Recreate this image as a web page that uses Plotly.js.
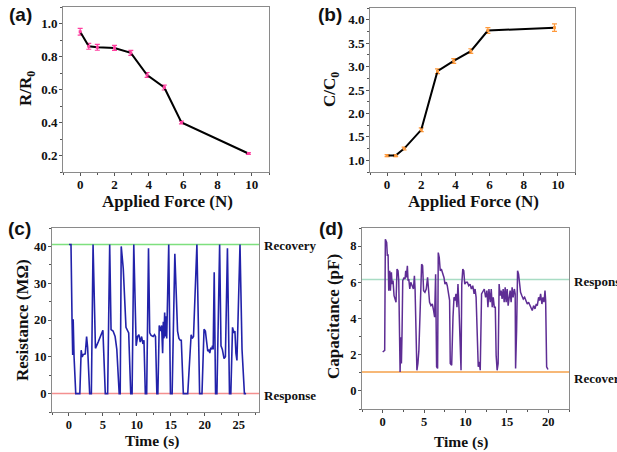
<!DOCTYPE html>
<html>
<head>
<meta charset="utf-8">
<script src="https://cdn.plot.ly/plotly-3.0.1.min.js"></script>
<style>html,body{margin:0;padding:0;background:#fff;}#chart{width:617px;height:452px;}</style>
</head>
<body>
<div id="chart"></div>
<script>
// ---------- Data ----------
// (a) R/R0 vs applied force
const forceA = [0, 0.5, 1, 2, 2.95, 3.9, 4.9, 5.9, 9.8];
const ratioR = [0.95, 0.862, 0.856, 0.852, 0.822, 0.688, 0.612, 0.400, 0.212];
const errR   = [0.02, 0.018, 0.018, 0.015, 0.015, 0.015, 0.015, 0.008, 0.005];

// (b) C/C0 vs applied force
const forceB = [0, 0.5, 1, 2, 2.95, 3.9, 4.9, 5.9, 9.8];
const ratioC = [1.10, 1.10, 1.25, 1.65, 2.90, 3.12, 3.33, 3.77, 3.83];
const errC   = [0.02, 0.02, 0.03, 0.04, 0.05, 0.05, 0.05, 0.06, 0.08];

// (c) resistance vs time
const timeC = [0,0.3,0.45,0.55,0.62,0.75,1.0,1.6,1.8,1.95,2.1,2.4,2.6,2.75,3.05,3.3,3.55,3.9,4.3,4.8,5.0,5.35,5.7,6.0,6.2,6.5,6.8,7.05,7.4,7.55,7.7,8.0,8.25,8.4,8.8,9.1,9.3,9.55,9.9,10.1,10.3,10.5,10.7,10.9,11.05,11.25,11.45,11.72,11.9,12.1,12.4,12.6,12.75,12.95,13.1,13.3,13.5,13.65,13.8,13.9,14.0,14.1,14.2,14.3,14.4,14.7,14.95,15.2,15.6,15.8,16.0,16.2,16.4,16.55,16.85,17.5,17.8,18.0,18.15,18.35,18.85,19.25,19.6,19.9,20.1,20.3,20.45,20.6,20.75,20.9,21.05,21.15,21.25,21.4,21.6,21.8,22.2,22.4,22.6,22.85,23.05,23.35,23.65,23.85,24.1,24.3,24.45,24.6,24.75,25.2,25.5,25.85,26.1];
const resistance = [40.5,40.5,20.3,10.5,20.2,10,0,0,11.8,10,10.6,10.8,15.5,12.5,0,0,40.5,12.3,14,16.5,17.2,0,0,40.5,17.4,17,15.5,12,0,0,40,34,26,18,16.5,0,0,40.5,13,15.5,16,14,15.5,13.5,14.5,0,0,39.5,16.5,15.8,15.5,16,15.5,0,0,18.5,17,18.5,11,19.5,15,22,15.5,21,15,40.5,0,0,38,28,17,15,14.5,14.5,0,0,11,16,15,15.5,40.5,0,0,17.5,17,12.5,11.5,12,11,12.5,12,13,12,33,0,0,40.5,13,12,9.5,10,39.5,0,0,18,16.5,17,11,9,40.5,12,0,0];
const recoveryC = 40.5;
const responseC = 0;

// (d) capacitance vs time
const timeD = [0,0.24,0.32,0.48,0.56,0.65,0.73,0.85,0.93,1.05,1.13,1.25,1.37,1.53,1.61,1.73,1.85,1.94,2.02,2.1,2.18,2.26,2.34,2.42,2.58,2.7,2.78,2.86,2.98,3.06,3.15,3.27,3.39,3.55,3.71,3.83,3.91,4.13,4.25,4.37,4.54,4.7,4.82,4.94,5.1,5.26,5.42,5.54,5.66,5.83,5.99,6.15,6.27,6.39,6.51,6.63,6.71,6.83,6.95,7.08,7.28,7.4,7.52,7.68,7.8,7.92,8.08,8.16,8.33,8.49,8.61,8.73,8.85,8.97,9.09,9.21,9.33,9.46,9.55,9.67,9.79,9.91,10.07,10.23,10.39,10.55,10.71,10.88,11.04,11.16,11.28,11.54,11.66,11.78,11.94,12.1,12.27,12.43,12.59,12.71,12.83,12.99,13.11,13.23,13.35,13.48,13.6,13.7,13.82,13.94,14.06,14.18,14.3,14.42,14.55,14.67,14.79,14.91,15.03,15.15,15.27,15.39,15.51,15.63,15.75,15.9,16.0,16.05,16.17,16.29,16.41,16.53,16.65,16.81,16.98,17.14,17.3,17.46,17.62,17.78,17.94,18.06,18.23,18.39,18.55,18.67,18.83,18.95,19.07,19.23,19.35,19.48,19.6,19.68,19.8,19.96];
const capacitance = [2.15,2.24,8.38,8.2,7.46,7.55,5.54,6.64,5.54,6.55,5.9,6.09,5.26,5.08,4.9,6.73,6.64,6.09,3.52,1.05,2.97,1.51,3.34,6.09,6.27,6.18,6.64,6.27,6.91,6.09,6.18,5.63,6.0,5.81,5.63,6.36,5.63,1.14,1.51,2.24,4.9,7.0,6.91,5.54,5.45,5.63,6.27,5.54,4.9,4.71,4.8,4.44,4.07,6.45,1.33,1.24,7.64,7.37,6.64,6.73,6.45,6.27,5.9,6.0,5.81,5.54,5.0,1.51,1.42,4.07,5.17,5.0,5.36,4.62,5.9,4.62,2.42,1.14,5.9,6.73,6.64,5.9,6.0,6.0,5.81,5.9,5.63,5.81,5.36,5.63,5.17,1.33,1.6,1.14,5.36,5.54,5.63,5.17,5.54,4.62,5.63,4.9,5.63,4.62,5.17,4.62,4.62,1.97,1.14,1.5,5.9,5.26,5.54,5.08,5.63,4.9,5.72,4.9,5.63,4.71,5.17,5.54,4.9,5.72,5.17,5.63,5.36,1.24,3.34,6.64,6.45,5.9,5.45,5.26,5.08,5.17,4.99,4.8,4.9,4.71,4.62,4.44,4.71,4.53,4.8,4.71,5.17,4.99,5.36,4.8,5.17,4.9,5.54,4.99,1.33,1.18];
const responseD = 6.15;
const recoveryD = 1.05;

// ---------- Styling helpers ----------
const W = 617, H = 452;
const px = v => v / W;
const py = v => 1 - v / H;
const serif = 'Liberation Serif, Times New Roman, serif';
const tickFontAB = {family: serif, size: 13, color: '#111', weight: 700};
const tickFontCD = {family: serif, size: 12.5, color: '#111', weight: 700};
const titleFontAB = {family: serif, size: 17, color: '#111', weight: 700};
const titleFontT = {family: serif, size: 15.5, color: '#111', weight: 700};
const titleFontY = {family: serif, size: 17, color: '#111', weight: 700};
const labelFont = {family: serif, size: 13, color: '#111', weight: 700};
const panelFont = {family: 'Liberation Sans, Arial, sans-serif', size: 19, color: '#111', weight: 700};

function axis(domain, range, dtick, minor, anchor, font, fmt, standoff) {
  const a = {
    domain: domain, range: range, dtick: dtick, tick0: 0, anchor: anchor,
    ticks: 'outside', ticklen: 3, tickwidth: 1, tickcolor: '#555',
    ticklabelstandoff: standoff === undefined ? -1 : standoff,
    showline: true, linecolor: '#8a8a8a', linewidth: 1, mirror: true,
    showgrid: false, zeroline: false, tickfont: font, fixedrange: true,
    minor: {ticks: 'outside', ticklen: 2, dtick: minor, tickcolor: '#555', showgrid: false}
  };
  if (fmt) a.tickformat = fmt;
  return a;
}

const traces = [
  {x: forceA, y: ratioR, xaxis: 'x', yaxis: 'y', type: 'scatter', mode: 'lines+markers',
   line: {color: '#000', width: 2}, marker: {color: '#ff3fa0', size: 3, symbol: 'square'},
   error_y: {type: 'data', array: errR, visible: true, color: '#ff3fa0', thickness: 1.2, width: 2.5}},
  {x: forceB, y: ratioC, xaxis: 'x2', yaxis: 'y2', type: 'scatter', mode: 'lines+markers',
   line: {color: '#000', width: 2}, marker: {color: '#ff9a3c', size: 3, symbol: 'square'},
   error_y: {type: 'data', array: errC, visible: true, color: '#ff9a3c', thickness: 1.2, width: 2.5}},
  {x: timeC, y: resistance, xaxis: 'x3', yaxis: 'y3', type: 'scatter', mode: 'lines',
   line: {color: '#2222aa', width: 1.6}},
  {x: timeD, y: capacitance, xaxis: 'x4', yaxis: 'y4', type: 'scatter', mode: 'lines',
   line: {color: '#5e2d94', width: 1.5}}
];

function txt(text, x, y, font, opts) {
  return Object.assign({text: text, x: px(x), y: py(y), xref: 'paper', yref: 'paper',
    xanchor: 'center', yanchor: 'middle', showarrow: false, font: font}, opts || {});
}

const layout = {
  width: W, height: H, margin: {l: 0, r: 0, t: 0, b: 0},
  paper_bgcolor: '#fff', plot_bgcolor: '#fff', showlegend: false,
  xaxis:  axis([px(63), px(269)], [-1, 11], 2, 1, 'y', tickFontAB, null, -3),
  yaxis:  axis([py(172), py(7)], [0.1, 1.1], 0.2, 0.1, 'x', tickFontAB, '.1f'),
  xaxis2: axis([px(370), px(575)], [-1, 11], 2, 1, 'y2', tickFontAB, null, -3),
  yaxis2: axis([py(172), py(8)], [0.75, 4.25], 0.5, 0.25, 'x2', tickFontAB, '.1f'),
  xaxis3: axis([px(52), px(259)], [-2.5, 28], 5, 2.5, 'y3', tickFontCD, null, -2),
  yaxis3: axis([py(412), py(228)], [-5, 45], 10, 5, 'x3', tickFontCD),
  xaxis4: axis([px(362), px(569)], [-2.5, 22.5], 5, 2.5, 'y4', tickFontCD, null, -2),
  yaxis4: axis([py(409), py(228)], [-1, 9], 2, 1, 'x4', tickFontCD),
  shapes: [
    {type: 'line', xref: 'x3 domain', yref: 'y3', x0: 0, x1: 1, y0: recoveryC, y1: recoveryC, line: {color: '#7ee07e', width: 1.5}, layer: 'below'},
    {type: 'line', xref: 'x3 domain', yref: 'y3', x0: 0, x1: 1, y0: responseC, y1: responseC, line: {color: '#f49090', width: 1.5}, layer: 'below'},
    {type: 'line', xref: 'x4 domain', yref: 'y4', x0: 0, x1: 1, y0: responseD, y1: responseD, line: {color: '#a8dcc4', width: 1.5}, layer: 'below'},
    {type: 'line', xref: 'x4 domain', yref: 'y4', x0: 0, x1: 1, y0: recoveryD, y1: recoveryD, line: {color: '#f5a04a', width: 1.5}, layer: 'below'}
  ],
  annotations: [
    // panel letters
    txt('(a)', 7, 15, panelFont, {xanchor: 'left'}),
    txt('(b)', 316, 15, panelFont, {xanchor: 'left'}),
    txt('(c)', 6, 229, panelFont, {xanchor: 'left'}),
    txt('(d)', 317, 229, panelFont, {xanchor: 'left'}),
    // axis titles
    txt('Applied Force (N)', 167, 202, titleFontAB),
    txt('Applied Force (N)', 473, 202, titleFontAB),
    txt('Time (s)', 152, 441, titleFontT),
    txt('Time (s)', 461, 442, titleFontT),
    txt('R/R<sub>0</sub>', 27, 89, titleFontY, {textangle: -90}),
    txt('C/C<sub>0</sub>', 331, 90, titleFontY, {textangle: -90}),
    txt('Resistance (MΩ)', 22, 320, titleFontY, {textangle: -90}),
    txt('Capacitance (pF)', 333, 317, titleFontY, {textangle: -90}),
    // level labels
    txt('Recovery', 262, 246, labelFont, {xanchor: 'left'}),
    txt('Response', 262, 395, labelFont, {xanchor: 'left'}),
    txt('Response', 572, 281, labelFont, {xanchor: 'left'}),
    txt('Recovery', 572, 378, labelFont, {xanchor: 'left'})
  ]
};

Plotly.newPlot('chart', traces, layout, {displayModeBar: false, staticPlot: true});
</script>
</body>
</html>
